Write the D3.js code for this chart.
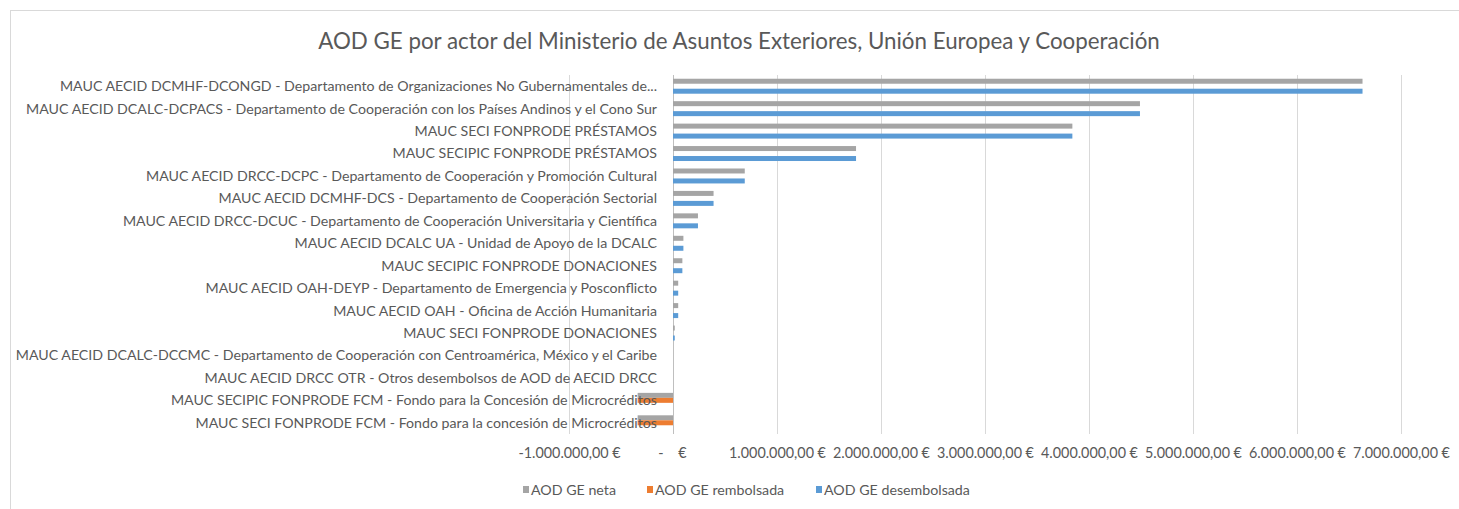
<!DOCTYPE html>
<html>
<head>
<meta charset="utf-8">
<script src="https://cdn.jsdelivr.net/npm/d3@7"></script>
<style>
  body { margin: 0; background: #fff; }
  text { font-family: Lato, "Open Sans", sans-serif; fill: #595959; }
</style>
</head>
<body>
<div id="chart"></div>
<script>
let categories = [
  "MAUC AECID DCMHF-DCONGD - Departamento de Organizaciones No Gubernamentales de...",
  "MAUC AECID DCALC-DCPACS - Departamento de Cooperación con los Países Andinos y el Cono Sur",
  "MAUC SECI FONPRODE PRÉSTAMOS",
  "MAUC SECIPIC FONPRODE PRÉSTAMOS",
  "MAUC AECID DRCC-DCPC - Departamento de Cooperación y Promoción Cultural",
  "MAUC AECID DCMHF-DCS - Departamento de Cooperación Sectorial",
  "MAUC AECID DRCC-DCUC - Departamento de Cooperación Universitaria y Científica",
  "MAUC AECID DCALC UA - Unidad de Apoyo de la DCALC",
  "MAUC SECIPIC FONPRODE DONACIONES",
  "MAUC AECID OAH-DEYP - Departamento de Emergencia y Posconflicto",
  "MAUC AECID OAH - Oficina de Acción Humanitaria",
  "MAUC SECI FONPRODE DONACIONES",
  "MAUC AECID DCALC-DCCMC - Departamento de Cooperación con Centroamérica, México y el Caribe",
  "MAUC AECID DRCC OTR - Otros desembolsos de AOD de AECID DRCC",
  "MAUC SECIPIC FONPRODE FCM - Fondo para la Concesión de Microcréditos",
  "MAUC SECI FONPRODE FCM - Fondo para la concesión de Microcréditos"
];
let seriesNames = ["AOD GE neta", "AOD GE rembolsada", "AOD GE desembolsada"];
let neta = [6630000, 4490000, 3840000, 1760000, 690000, 390000, 240000, 100000, 90000, 50000, 50000, 17000, 0, 0, -340000, -340000];
let rembolsada = [0, 0, 0, 0, 0, 0, 0, 0, 0, 0, 0, 0, 0, 0, -340000, -340000];
let desembolsada = [6630000, 4490000, 3840000, 1760000, 690000, 390000, 240000, 100000, 90000, 50000, 50000, 17000, 0, 0, 0, 0];
let tickValues = [-1000000, 0, 1000000, 2000000, 3000000, 4000000, 5000000, 6000000, 7000000];
let tickLabels = ["-1.000.000,00 €", "-\u00a0\u00a0\u00a0\u00a0€", "1.000.000,00 €", "2.000.000,00 €", "3.000.000,00 €", "4.000.000,00 €", "5.000.000,00 €", "6.000.000,00 €", "7.000.000,00 €"];
let colors = ["#a5a5a5", "#ed7d31", "#5b9bd5"];

let width = 1459, height = 509;
let rows = categories.map((c, i) => ({ cat: c, values: [neta[i], rembolsada[i], desembolsada[i]] }));

let svg = d3.select('#chart').append('svg')
  .attr('width', width).attr('height', height);

svg.append('rect')
  .attr('x', 10.5).attr('y', 10.5)
  .attr('width', width).attr('height', height)
  .attr('fill', 'none').attr('stroke', '#d9d9d9');

// fit text to a width (Calibri substitute)
function fitText(sel, target) {
  let fs = parseFloat(sel.attr('font-size'));
  let w = sel.node().getComputedTextLength();
  sel.attr('font-size', fs * target / w);
}

let title = svg.append('text')
  .attr('x', 739).attr('y', 49)
  .attr('text-anchor', 'middle')
  .attr('font-size', 20)
  .text('AOD GE por actor del Ministerio de Asuntos Exteriores, Unión Europea y Cooperación');
fitText(title, 842);

let xS = d3.scaleLinear().domain([-1000000, 7000000]).range([569, 1401]);
let yS = d3.scaleBand().domain(categories).range([75, 434]);
let subS = d3.scaleBand().domain(seriesNames).range([0, yS.bandwidth()]).paddingOuter(0.75);

// gridlines
svg.append('g').selectAll('line')
  .data(tickValues)
  .enter().append('line')
  .attr('x1', d => xS(d) + 0.5).attr('x2', d => xS(d) + 0.5)
  .attr('y1', 75).attr('y2', 434)
  .attr('stroke', d => d === 0 ? '#bfbfbf' : '#d9d9d9');

// bars
let groups = svg.append('g').selectAll('g')
  .data(rows).enter().append('g')
  .attr('transform', d => 'translate(0,' + yS(d.cat) + ')');

groups.selectAll('rect')
  .data(d => d.values.map((v, j) => ({ v: v, s: seriesNames[j], c: colors[j] })))
  .enter().append('rect')
  .attr('x', d => xS(Math.min(0, d.v)))
  .attr('width', d => Math.abs(xS(d.v) - xS(0)))
  .attr('y', d => subS(d.s))
  .attr('height', subS.bandwidth())
  .attr('fill', d => d.c);

// category labels
let labels = svg.append('g').selectAll('text')
  .data(categories).enter().append('text')
  .attr('x', 657)
  .attr('y', d => yS(d) + yS.bandwidth() / 2)
  .attr('dy', '0.35em')
  .attr('text-anchor', 'end')
  .attr('font-size', 13)
  .text(d => d);
let widest = labels.filter((d, i) => i === 12);
let w0 = widest.node().getComputedTextLength();
labels.attr('font-size', 13 * 642 / w0);

// x axis labels
let xAxis = d3.axisBottom(xS).tickValues(tickValues)
  .tickFormat((d, i) => tickLabels[i]).tickSize(0).tickPadding(0);
let ax = svg.append('g')
  .attr('transform', 'translate(0,448)')
  .call(xAxis);
ax.select('.domain').remove();
ax.selectAll('text')
  .style('font-family', 'Lato, "Open Sans", sans-serif')
  .attr('font-size', 13).attr('fill', '#595959');
let tw = ax.selectAll('text').filter((d, i) => i === 2).node().getComputedTextLength();
ax.selectAll('text').attr('font-size', 13 * 97 / tw);
ax.selectAll('text').filter(d => d === 0).attr('dx', -1);

// legend
let legendX = [523, 647, 816];
let leg = svg.append('g').selectAll('g')
  .data(seriesNames).enter().append('g')
  .attr('transform', (d, i) => 'translate(' + legendX[i] + ',490)');
leg.append('rect')
  .attr('x', 0).attr('y', -4).attr('width', 6).attr('height', 7)
  .attr('fill', (d, i) => colors[i]);
let legText = leg.append('text')
  .attr('x', 8).attr('y', 0).attr('dy', '0.35em')
  .attr('font-size', 13)
  .text(d => d);
let lw = legText.filter((d, i) => i === 2).node().getComputedTextLength();
legText.attr('font-size', 13 * 146 / lw);
</script>
</body>
</html>
